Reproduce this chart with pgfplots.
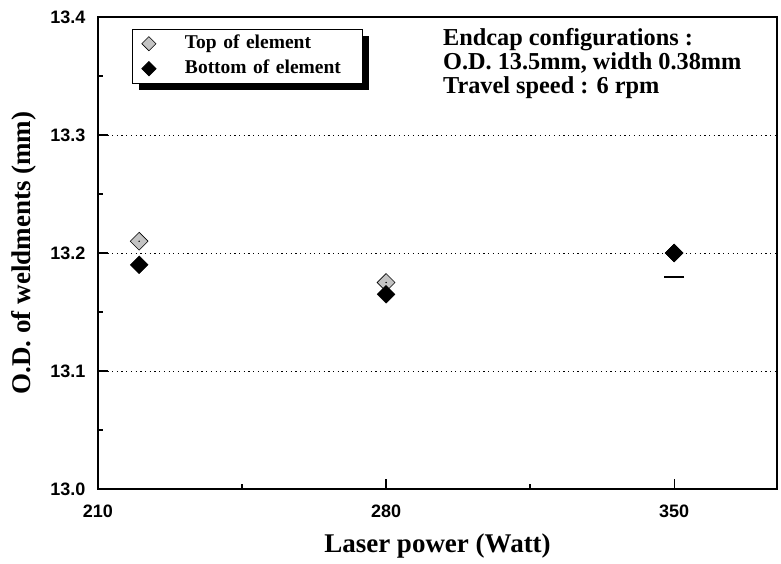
\documentclass[border=0pt]{standalone}
\usepackage{pgfplots}
\pgfplotsset{compat=1.18}
\usepackage{fontspec}
\setmainfont{Liberation Serif}
\newfontfamily\arialfont{Liberation Sans}
\usetikzlibrary{shadows}
\definecolor{topgray}{RGB}{195,195,195}
\begin{document}
\begin{tikzpicture}
\begin{axis}[
  scale only axis,
  width=679pt, height=472pt,
  xmin=210, xmax=375, ymin=13.0, ymax=13.4,
  xtick={210,280,350}, minor xtick={245,315},
  ytick={13.0,13.1,13.2,13.3,13.4}, minor ytick={13.05,13.15,13.25,13.35},
  yticklabel style={/tikz/xshift=-9pt, /pgf/number format/fixed,/pgf/number format/fixed zerofill,/pgf/number format/precision=1},
  xticklabel style={/tikz/yshift=-12pt, /pgf/number format/1000 sep={}},
  /pgf/number format/assume math mode=true,
  ticklabel style={font=\arialfont\bfseries\fontsize{18}{21}\selectfont},
  tick align=inside,
  xtick pos=bottom, ytick pos=left,
  major tick length=10pt, minor tick length=5pt,
  every tick/.style={black, line width=1.2pt},
  axis line style={line width=1.6pt},
  extra y ticks={13.1,13.2,13.3},
  extra y tick labels={},
  extra y tick style={grid=major, major grid style={black, dash pattern=on 1.2pt off 3.5pt, line width=1pt}, major tick length=0pt},
  xlabel={Laser power (Watt)},
  ylabel={O.D. of weldments (mm)},
  label style={font=\bfseries\fontsize{27}{30}\selectfont},
  xlabel style={at={(axis description cs:0.5,0)}, anchor=north, yshift=-41pt},
  ylabel style={at={(axis description cs:0,0.5)}, anchor=south, yshift=58pt},
  legend style={at={(axis description cs:0.050,0.975)}, anchor=north west,
    draw=black, line width=0.8pt, fill=white,
    drop shadow={shadow xshift=7pt, shadow yshift=-7pt, fill=black, opacity=1},
    font=\bfseries\fontsize{19.5}{22}\selectfont,
    inner xsep=9.5pt, inner ysep=4pt, row sep=4pt,
    nodes={inner sep=2pt, text height=13pt, text depth=4pt, text width=166pt},
    /tikz/every odd column/.append style={column sep=27pt}},
  legend cell align=left,
  legend image post style={mark size=5pt},
  clip=false,
]
\addplot[only marks, mark=square*, mark size=6.3pt, mark options={rotate=45, fill=topgray, draw=black, line width=0.6pt}]
  coordinates {(220,13.21) (280,13.175) (350,13.2)};
\addlegendentry{Top of element}
\addplot[only marks, mark=square*, mark size=6.3pt, mark options={rotate=45, fill=black, draw=black}]
  coordinates {(220,13.19) (280,13.165) (350,13.2)};
\addlegendentry{Bottom of element}
\addplot[only marks, forget plot, mark=*, mark size=0.5pt, mark options={fill=black!70, draw=none}]
  coordinates {(220,13.21) (280,13.175)};
\addplot[only marks, forget plot, mark=-, mark size=10pt, mark options={line width=1.8pt, black}]
  coordinates {(350,13.18)};
\node[anchor=north west, align=left, font=\bfseries\fontsize{24.3}{24}\selectfont, inner sep=0pt]
  at (axis description cs:0.508,0.976) {Endcap configurations :\\O.D. 13.5mm, width 0.38mm\\Travel speed : 6 rpm};
\coordinate (bl) at (rel axis cs:0,0);
\end{axis}
\path[use as bounding box] (bl) ++(-98pt,-74pt) rectangle ++(781pt,563pt);
\end{tikzpicture}
\end{document}
